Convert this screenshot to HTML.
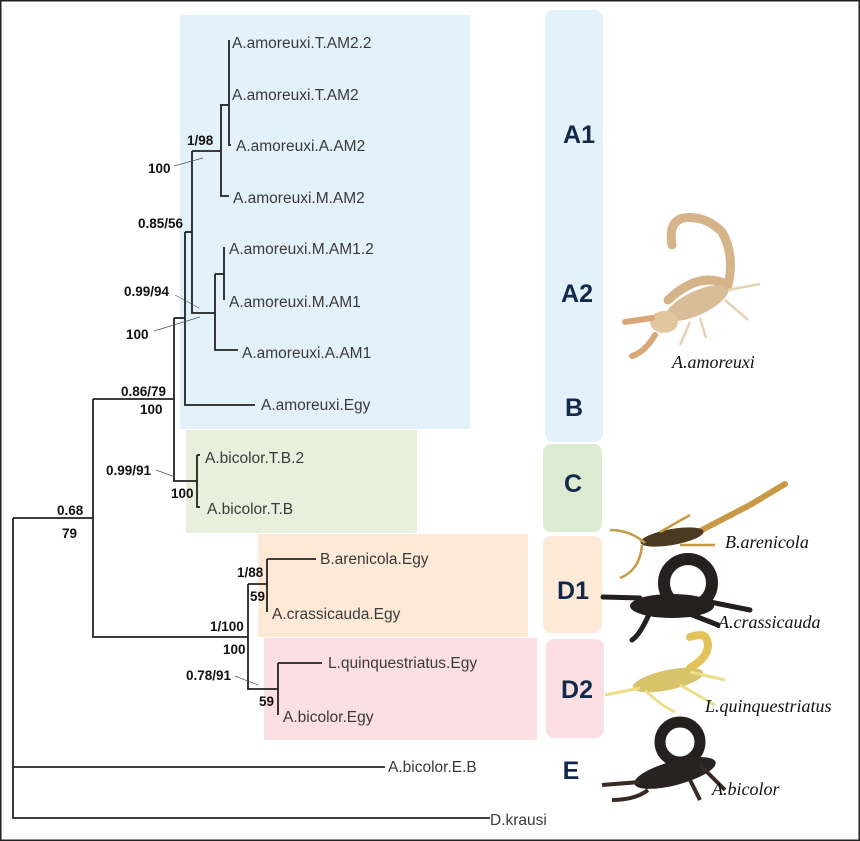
<!DOCTYPE html>
<html><head><meta charset="utf-8"><style>
html,body{margin:0;padding:0;background:#fff}
svg{display:block}
.l{font-family:"Liberation Sans",sans-serif;font-size:15.5px;fill:#3a3a3a}
.b{font-family:"Liberation Sans",sans-serif;font-size:13.5px;font-weight:bold;fill:#111}
.g{font-family:"Liberation Sans",sans-serif;font-size:25px;font-weight:bold;fill:#13294b}
.s{font-family:"Liberation Serif",serif;font-size:18px;font-style:italic;fill:#111}
</style></head><body>
<svg width="860" height="841" viewBox="0 0 860 841" xmlns="http://www.w3.org/2000/svg">
<rect x="0.75" y="0.75" width="858.5" height="839.5" fill="#fff" stroke="#222" stroke-width="1.5"/>
<rect x="180" y="15" width="290" height="414" fill="#e3f1fa"/>
<rect x="186" y="430" width="231" height="103" fill="#e8f0dc"/>
<rect x="258" y="534" width="270" height="103" fill="#fde9d6"/>
<rect x="264" y="638" width="273" height="102" fill="#fbdfe2"/>
<rect x="545" y="10" width="58" height="432" rx="8" fill="#e3f1fa"/>
<rect x="543" y="444" width="59" height="88" rx="8" fill="#dcebd2"/>
<rect x="543" y="536" width="59" height="97" rx="8" fill="#fde9d6"/>
<rect x="546" y="639" width="58" height="99" rx="8" fill="#fbdfe2"/>
<text class="g" x="579" y="143" text-anchor="middle">A1</text>
<text class="g" x="577" y="302" text-anchor="middle">A2</text>
<text class="g" x="574" y="416" text-anchor="middle">B</text>
<text class="g" x="573" y="492" text-anchor="middle">C</text>
<text class="g" x="573" y="599" text-anchor="middle">D1</text>
<text class="g" x="577" y="698" text-anchor="middle">D2</text>
<text class="g" x="571" y="779" text-anchor="middle">E</text>
<g fill="none" stroke="#222" stroke-width="1.8">
<path d="M229 40V145H231"/>
<path d="M220 105H229"/>
<path d="M221 105V196H229"/>
<path d="M192 151H221"/>
<path d="M192 151V313H215"/>
<path d="M224 247V300"/>
<path d="M215 274H224"/>
<path d="M215 274V350H238"/>
<path d="M185 232H192"/>
<path d="M185 232V405H255"/>
<path d="M174 318H185"/>
<path d="M174 318V481H197"/>
<path d="M197 455V507H200"/>
<path d="M197 455H200"/>
<path d="M93 399H174"/>
<path d="M93 399V637H248"/>
<path d="M13 518H93"/>
<path d="M13 518V818H490"/>
<path d="M13 767H385"/>
<path d="M248 584V689H278"/>
<path d="M248 584H267"/>
<path d="M267 559V612"/>
<path d="M267 559H316"/>
<path d="M278 663V715"/>
<path d="M278 663H322"/>
</g>
<g stroke="#555" stroke-width="0.7" fill="none">
<path d="M174 166L203 158"/>
<path d="M175 295L199 308"/>
<path d="M154 331L200 317"/>
<path d="M156 470L175 477"/>
<path d="M235 676L258 685"/>
</g>
<text class="l" x="232" y="48">A.amoreuxi.T.AM2.2</text>
<text class="l" x="232" y="100">A.amoreuxi.T.AM2</text>
<text class="l" x="236" y="151">A.amoreuxi.A.AM2</text>
<text class="l" x="233" y="203">A.amoreuxi.M.AM2</text>
<text class="l" x="229" y="254">A.amoreuxi.M.AM1.2</text>
<text class="l" x="229" y="307">A.amoreuxi.M.AM1</text>
<text class="l" x="242" y="358">A.amoreuxi.A.AM1</text>
<text class="l" x="261" y="410">A.amoreuxi.Egy</text>
<text class="l" x="205" y="463">A.bicolor.T.B.2</text>
<text class="l" x="207" y="514">A.bicolor.T.B</text>
<text class="l" x="320" y="564">B.arenicola.Egy</text>
<text class="l" x="272" y="619">A.crassicauda.Egy</text>
<text class="l" x="328" y="668">L.quinquestriatus.Egy</text>
<text class="l" x="283" y="722">A.bicolor.Egy</text>
<text class="l" x="388" y="772">A.bicolor.E.B</text>
<text class="l" x="490" y="825">D.krausi</text>
<text class="b" x="187" y="145">1/98</text>
<text class="b" x="148" y="173">100</text>
<text class="b" x="138" y="228">0.85/56</text>
<text class="b" x="124" y="296">0.99/94</text>
<text class="b" x="126" y="339">100</text>
<text class="b" x="121" y="396">0.86/79</text>
<text class="b" x="140" y="414">100</text>
<text class="b" x="106" y="475">0.99/91</text>
<text class="b" x="171" y="498">100</text>
<text class="b" x="57" y="515">0.68</text>
<text class="b" x="62" y="538">79</text>
<text class="b" x="237" y="577">1/88</text>
<text class="b" x="250" y="601">59</text>
<text class="b" x="210" y="631">1/100</text>
<text class="b" x="223" y="654">100</text>
<text class="b" x="186" y="680">0.78/91</text>
<text class="b" x="259" y="706">59</text>
<g>
<path d="M668 300 Q700 270 728 285 Q735 255 722 232 Q705 215 683 218 Q668 222 672 245" fill="none" stroke="#d6b48a" stroke-width="9" stroke-linecap="round"/>
<ellipse cx="697" cy="303" rx="34" ry="12" transform="rotate(-25 697 303)" fill="#d9bd98"/>
<ellipse cx="664" cy="322" rx="14" ry="11" fill="#e2c6a0"/>
<path d="M652 318 L625 322 M655 335 Q645 352 632 356" stroke="#d8a878" stroke-width="6" fill="none" stroke-linecap="round"/>
<path d="M728 290 L760 284 M725 300 L748 320 M700 318 L706 338 M690 322 L680 345" stroke="#e6d2b4" stroke-width="2.5" fill="none"/>
</g>
<text class="s" x="672" y="368">A.amoreuxi</text>
<g>
<path d="M700 531 L750 505 L785 484" stroke="#c89a45" stroke-width="6" fill="none" stroke-linecap="round"/>
<ellipse cx="672" cy="537" rx="32" ry="8" transform="rotate(-10 672 537)" fill="#4a3a22"/>
<path d="M645 543 Q630 530 610 530 M642 545 Q640 570 620 578 M660 532 L690 515 M680 545 L715 545" stroke="#c89a45" stroke-width="2.5" fill="none"/>
</g>
<text class="s" x="725" y="548">B.arenicola</text>
<g fill="#222">
<circle cx="688" cy="583" r="24" fill="none" stroke="#252020" stroke-width="12"/>
<ellipse cx="672" cy="606" rx="42" ry="12" fill="#252020"/>
<path d="M640 598 L603 597 M650 612 Q640 635 632 640 M700 600 L750 610 M690 614 L718 625" stroke="#252020" stroke-width="5" fill="none" stroke-linecap="round"/>
</g>
<text class="s" x="718" y="628">A.crassicauda</text>
<g>
<path d="M690 668 Q712 655 707 640 Q705 632 690 637" stroke="#e3c25a" stroke-width="8" fill="none" stroke-linecap="round"/>
<ellipse cx="668" cy="680" rx="36" ry="10" transform="rotate(-12 668 680)" fill="#d6c36a"/>
<path d="M640 688 L605 695 M645 690 Q660 705 675 712 M690 672 L725 680 M680 685 L715 705" stroke="#eedd88" stroke-width="3" fill="none"/>
</g>
<text class="s" x="705" y="712">L.quinquestriatus</text>
<g>
<circle cx="680" cy="742" r="20" fill="none" stroke="#252020" stroke-width="11"/>
<ellipse cx="675" cy="773" rx="42" ry="12" transform="rotate(-15 675 773)" fill="#282222"/>
<path d="M640 782 L602 785 M648 790 Q635 800 612 800 M700 765 L725 790 M690 780 L700 800" stroke="#3a2a25" stroke-width="4" fill="none"/>
</g>
<text class="s" x="712" y="795">A.bicolor</text>
</svg>
</body></html>
